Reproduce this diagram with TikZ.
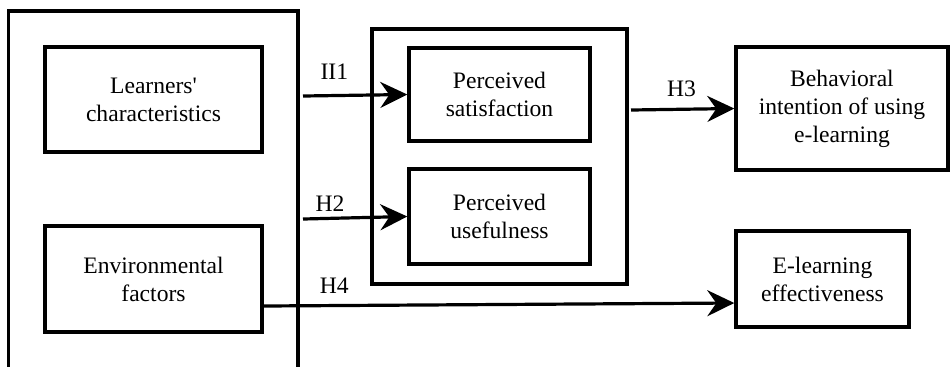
\documentclass[tikz,border=0pt]{standalone}
\usepackage{fontspec}
\setmainfont{Liberation Serif}
\usepackage{tikz}
\usetikzlibrary{arrows.meta}
\usetikzlibrary{positioning}

\begin{document}
\begin{tikzpicture}[x=0.5pt,y=-0.5pt,
		cbox/.style={draw, line width=1.7pt, align=center, inner sep=0pt, font=\fontsize{11.8}{14}\selectfont},
		hyp/.style={line width=1.6pt, -{Stealth[length=13.5pt,width=13pt,inset=4.5pt]}},
		lbl/.style={inner sep=0pt, font=\fontsize{11.8}{14}\selectfont}]
		\useasboundingbox (0,0) rectangle (951,366);
		\draw[line width=1.7pt] (8.5,372) -- (8.5,11) -- (298,11) -- (298,372);
		\path
		(153.5,99.5) node[cbox, minimum width=108.5pt, minimum height=52.5pt](lc) {Learners\textquotesingle\\characteristics}
		(153.5,279) node[cbox, minimum width=108.5pt, minimum height=53pt](ef) {Environmental\\factors}
		(499.5,156.5) node[cbox, minimum width=127.5pt, minimum height=127.5pt](grp) {}
		(499.5,94.5) node[cbox, minimum width=90.5pt, minimum height=46.5pt](ps) {Perceived\\satisfaction}
		(499.5,216.5) node[cbox, minimum width=90.5pt, minimum height=47.5pt](pu) {Perceived\\usefulness}
		(842,108.5) node[cbox, minimum width=106pt, minimum height=61.5pt](bi) {Behavioral\\intention of using\\e-learning}
		(822.5,279) node[cbox, minimum width=86.5pt, minimum height=48pt](ee) {E-learning\\effectiveness};
		\coordinate (h1) at (303,96);
		\coordinate (h2) at (303,219);
		\coordinate (h3) at (631,110);
		\draw[hyp] (h1) to node[lbl, above=7pt, pos=0.3] {II1} (ps.west);
		\draw[hyp] (h2) to node[lbl, above=2.8pt, pos=0.26] {H2} (pu.west);
		\draw[hyp] (h3) to node[lbl, above=5.7pt, pos=0.49] {H3} (bi.west);
		\draw[hyp] ([yshift=-13.5pt]ef.east) to node[lbl, above=5.2pt, pos=0.15] {H4} ([yshift=-12pt]ee.west);
	\end{tikzpicture}
\end{document}
